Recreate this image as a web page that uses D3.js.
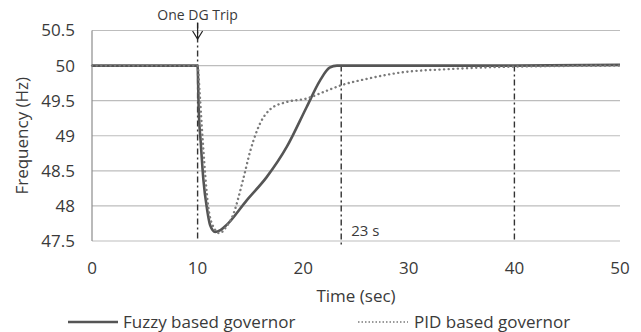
<!DOCTYPE html>
<html>
<head>
<meta charset="utf-8">
<script src="https://cdn.jsdelivr.net/npm/d3@7"></script>
<style>
  body { margin: 0; background: #fff; }
  text { font-family: "Open Sans", sans-serif; fill: #3a3a3a; }
</style>
</head>
<body>
<div id="chart"></div>
<script>
// time (s) and frequency (Hz)
const fuzzyTime = [0, 10, 10.1, 10.3, 10.55, 10.9, 11.2, 11.65, 12.2, 12.75, 14.65, 16.54, 18.44, 20.33, 21.6, 22.5, 23.2, 25, 30, 40, 50];
const fuzzyFreq = [50, 50, 49.4, 48.9, 48.37, 47.95, 47.72, 47.63, 47.66, 47.73, 48.08, 48.41, 48.84, 49.41, 49.79, 49.97, 50.0, 50.0, 50.0, 50.0, 50.01];
const pidTime = [0, 10, 10.2, 10.5, 11, 11.5, 12.1, 12.6, 13.4, 14.3, 15, 15.9, 16.9, 18.4, 20.3, 22.2, 23.6, 26, 29.2, 33.9, 40, 50];
const pidFreq = [50, 50, 49.6, 48.9, 48.0, 47.7, 47.61, 47.68, 47.89, 48.37, 48.79, 49.17, 49.38, 49.48, 49.53, 49.64, 49.72, 49.81, 49.9, 49.95, 49.985, 50.0];
const xTicks = [0, 10, 20, 30, 40, 50];
const yTicks = [47.5, 48, 48.5, 49, 49.5, 50, 50.5];
const markerTimes = [10, 23.6, 40];
const seriesNames = ["Fuzzy based governor", "PID based governor"];

const width = 641, height = 332;
const margin = {top: 30.5, right: 21, bottom: 91, left: 92};
const plotW = width - margin.left - margin.right;
const plotH = height - margin.top - margin.bottom;

const svg = d3.select("#chart").append("svg")
    .attr("width", width)
    .attr("height", height);

const x = d3.scaleLinear().domain([0, 50]).range([margin.left, margin.left + plotW]);
const y = d3.scaleLinear().domain([47.5, 50.5]).range([margin.top + plotH, margin.top]);

// horizontal gridlines
svg.append("g")
    .selectAll("line")
    .data(yTicks)
    .join("line")
    .attr("x1", x(0)).attr("x2", x(50))
    .attr("y1", d => y(d)).attr("y2", d => y(d))
    .attr("stroke", "#bdbdbd")
    .attr("stroke-width", 1.2);

// left axis line
svg.append("line")
    .attr("x1", x(0)).attr("x2", x(0))
    .attr("y1", y(50.5)).attr("y2", y(47.5))
    .attr("stroke", "#8c8c8c")
    .attr("stroke-width", 1.2);

// tick labels
svg.append("g")
    .selectAll("text")
    .data(yTicks)
    .join("text")
    .attr("x", 75)
    .attr("y", d => y(d))
    .attr("dy", "0.35em")
    .attr("text-anchor", "end")
    .style("font-size", "17px")
    .text(d => d);

svg.append("g")
    .selectAll("text")
    .data(xTicks)
    .join("text")
    .attr("x", d => x(d))
    .attr("y", 268)
    .attr("dy", "0.35em")
    .attr("text-anchor", "middle")
    .style("font-size", "17px")
    .text(d => d);

// axis titles
svg.append("text")
    .attr("transform", "translate(22," + (margin.top + plotH / 2) + ") rotate(-90)")
    .attr("text-anchor", "middle")
    .attr("dy", "0.35em")
    .style("font-size", "17px")
    .text("Frequency (Hz)");

svg.append("text")
    .attr("x", margin.left + plotW / 2)
    .attr("y", 296)
    .attr("dy", "0.35em")
    .attr("text-anchor", "middle")
    .style("font-size", "17px")
    .text("Time (sec)");

// dash-dot marker lines
const markerTop = [y(50.5) - 8, y(50), y(50)];
const markerBottom = [y(47.5) - 2, y(47.5) + 5, y(47.5)];
svg.append("g")
    .selectAll("line")
    .data(markerTimes)
    .join("line")
    .attr("x1", d => x(d)).attr("x2", d => x(d))
    .attr("y1", (d, i) => markerTop[i])
    .attr("y2", (d, i) => markerBottom[i])
    .attr("stroke", "#333")
    .attr("stroke-width", 1.4)
    .attr("stroke-dasharray", "6,3,2,3");

// curves
const line = d3.line()
    .x(d => x(d[0]))
    .y(d => y(d[1]))
    .curve(d3.curveMonotoneX);

svg.append("path")
    .datum(d3.zip(fuzzyTime, fuzzyFreq))
    .attr("d", line)
    .attr("fill", "none")
    .attr("stroke", "#555")
    .attr("stroke-width", 2.6);

svg.append("path")
    .datum(d3.zip(pidTime, pidFreq))
    .attr("d", line)
    .attr("fill", "none")
    .attr("stroke", "#7a7a7a")
    .attr("stroke-width", 2.4)
    .attr("stroke-linecap", "round")
    .attr("stroke-dasharray", "0.1,4.5");

// trip annotation
const tripX = x(markerTimes[0]);
svg.append("text")
    .attr("x", tripX)
    .attr("y", 15)
    .attr("dy", "0.35em")
    .attr("text-anchor", "middle")
    .style("font-size", "14px")
    .text("One DG Trip");
svg.append("path")
    .attr("d", `M${tripX},23 V39 M${tripX - 5},31 L${tripX},39 L${tripX + 5},31`)
    .attr("fill", "none")
    .attr("stroke", "#222")
    .attr("stroke-width", 1.2);

svg.append("text")
    .attr("x", x(markerTimes[1]) + 10)
    .attr("y", 231)
    .attr("dy", "0.35em")
    .style("font-size", "15px")
    .text("23 s");

// legend
const legend = svg.append("g");
legend.append("line")
    .attr("x1", 68).attr("x2", 118)
    .attr("y1", 322).attr("y2", 322)
    .attr("stroke", "#555")
    .attr("stroke-width", 2.4);
legend.append("line")
    .attr("x1", 358).attr("x2", 408)
    .attr("y1", 322).attr("y2", 322)
    .attr("stroke", "#7a7a7a")
    .attr("stroke-width", 1.6)
    .attr("stroke-dasharray", "1.5,2");
legend.selectAll("text")
    .data(seriesNames)
    .join("text")
    .attr("x", (d, i) => i === 0 ? 123 : 414)
    .attr("y", 322)
    .attr("dy", "0.35em")
    .style("font-size", "17px")
    .text(d => d);
</script>
</body>
</html>
